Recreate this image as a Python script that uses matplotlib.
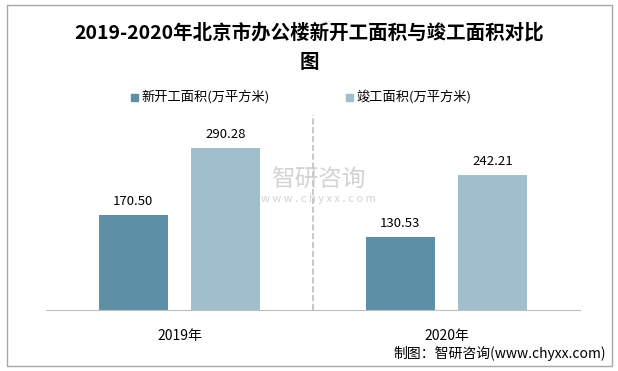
import numpy as np
import matplotlib.pyplot as plt
from matplotlib.patches import Rectangle

plt.rcParams['font.family'] = ['Noto Sans CJK SC', 'DejaVu Sans']

years = ['2019年', '2020年']
new_start = [170.50, 130.53]
completed = [290.28, 242.21]
series_names = ['新开工面积(万平方米)', '竣工面积(万平方米)']
colors = ['#5D90A6', '#A0BECB']

fig = plt.figure(figsize=(6.18, 3.71), dpi=100)
ax = fig.add_axes([46/618, 1 - 310/371, 534/618, 210/371])

x = np.arange(len(years))
w = 0.26
ax.bar(x - 0.173, new_start, w, color=colors[0])
ax.bar(x + 0.173, completed, w, color=colors[1])

for xi, v in zip(x - 0.173, new_start):
    ax.text(xi, v + 12, f'{v:.2f}', ha='center', va='bottom', fontsize=9.5)
for xi, v in zip(x + 0.173, completed):
    ax.text(xi, v + 12, f'{v:.2f}', ha='center', va='bottom', fontsize=9.5)

ax.set_xlim(-0.5, 1.5)
ax.set_ylim(0, 376)
ax.axvline(0.5, ymin=0, ymax=0.93, color='#BFBFBF', ls='--', lw=1.2)
for s in ['top', 'right', 'left']:
    ax.spines[s].set_visible(False)
ax.spines['bottom'].set_color('#BFBFBF')
ax.set_yticks([])
ax.set_xticks(x)
ax.set_xticklabels(years, fontsize=10)
ax.tick_params(axis='x', length=0, pad=14)

# title
fig.text(0.5, 1 - 33/371, '2019-2020年北京市办公楼新开工面积与竣工面积对比',
         ha='center', va='center', fontsize=14, fontweight='bold')
fig.text(0.5, 1 - 63/371, '图', ha='center', va='center', fontsize=14, fontweight='bold')

# legend
for px, name, c in zip([131, 346], series_names, colors):
    fig.patches.append(Rectangle((px/618, 1 - 101/371), 7/618, 7/371,
                                 transform=fig.transFigure, color=c))
    fig.text((px + 10)/618, 1 - 97/371, name, ha='left', va='center', fontsize=9.5)

# watermark
fig.text(318/618, 1 - 180/371, '智研咨询', ha='center', va='center', fontsize=17,
         color='#C8C8C8', alpha=0.8)
fig.text(318/618, 1 - 199/371, 'w w w . c h y x x . c o m', ha='center', va='center',
         fontsize=8, color='#C8C8C8', alpha=0.8)

fig.text(606/618, 1 - 353/371, '制图：智研咨询(www.chyxx.com)', ha='right', va='center',
         fontsize=10)

fig.patches.append(Rectangle((7/618, 5/371), 605/618, 361/371, transform=fig.transFigure,
                             fill=False, edgecolor='#A6A6A6', lw=1))

fig.savefig('out.png', dpi=100)
